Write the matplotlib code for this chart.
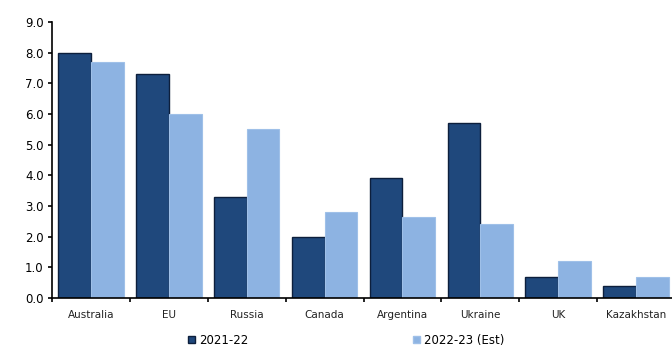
import numpy as np
import matplotlib.pyplot as plt
from matplotlib.patches import Patch

countries = ['Australia', 'EU', 'Russia', 'Canada', 'Argentina', 'Ukraine', 'UK', 'Kazakhstan']
y2122 = [8.0, 7.3, 3.3, 2.0, 3.9, 5.7, 0.7, 0.4]
y2223 = [7.7, 6.0, 5.5, 2.8, 2.65, 2.4, 1.2, 0.7]
series_names = ['2021-22', '2022-23 (Est)']

dark = '#1f487c'
light = '#8db3e2'

fig = plt.figure(figsize=(6.72, 3.49), dpi=100)
ax = fig.add_axes([52/672, 51/349, 623/672, 276/349])

x = np.arange(len(countries))
w = 0.42
ax.bar(x - w/2, y2122, w, color=dark, edgecolor='#0d1f3c', linewidth=1.0)
ax.bar(x + w/2, y2223, w, color=light, edgecolor='#9fc0e8', linewidth=0.8)

ax.set_xlim(-0.5, len(countries) - 0.5)
ax.set_ylim(0, 9)
ax.set_yticks(np.arange(0, 9.1, 1.0))
ax.set_yticklabels([f'{v:.1f}' for v in np.arange(0, 9.1, 1.0)], fontsize=8.5)
ax.set_xticks(x)
ax.set_xticklabels(countries, fontsize=7.5, color='#222222')
ax.tick_params(axis='x', length=0, pad=9)
ax.set_xticks(np.arange(-0.5, len(countries), 1.0), minor=True)
ax.tick_params(axis='x', which='minor', length=3, width=1.2, direction='out')
ax.tick_params(axis='y', length=3, width=1.2, direction='out', pad=3)
ax.spines['top'].set_visible(False)
ax.spines['right'].set_visible(False)
ax.spines['left'].set_linewidth(1.2)
ax.spines['bottom'].set_linewidth(1.2)

handles = [Patch(facecolor=dark, edgecolor='#0d1f3c'), Patch(facecolor=light, edgecolor='#9fc0e8')]
fig.legend(handles, series_names, loc='center', bbox_to_anchor=(0.515, 0.025), ncol=2,
           frameon=False, fontsize=8.5, handlelength=0.6, handleheight=0.6,
           handletextpad=0.3, columnspacing=14)

plt.savefig('out.png', dpi=100)
